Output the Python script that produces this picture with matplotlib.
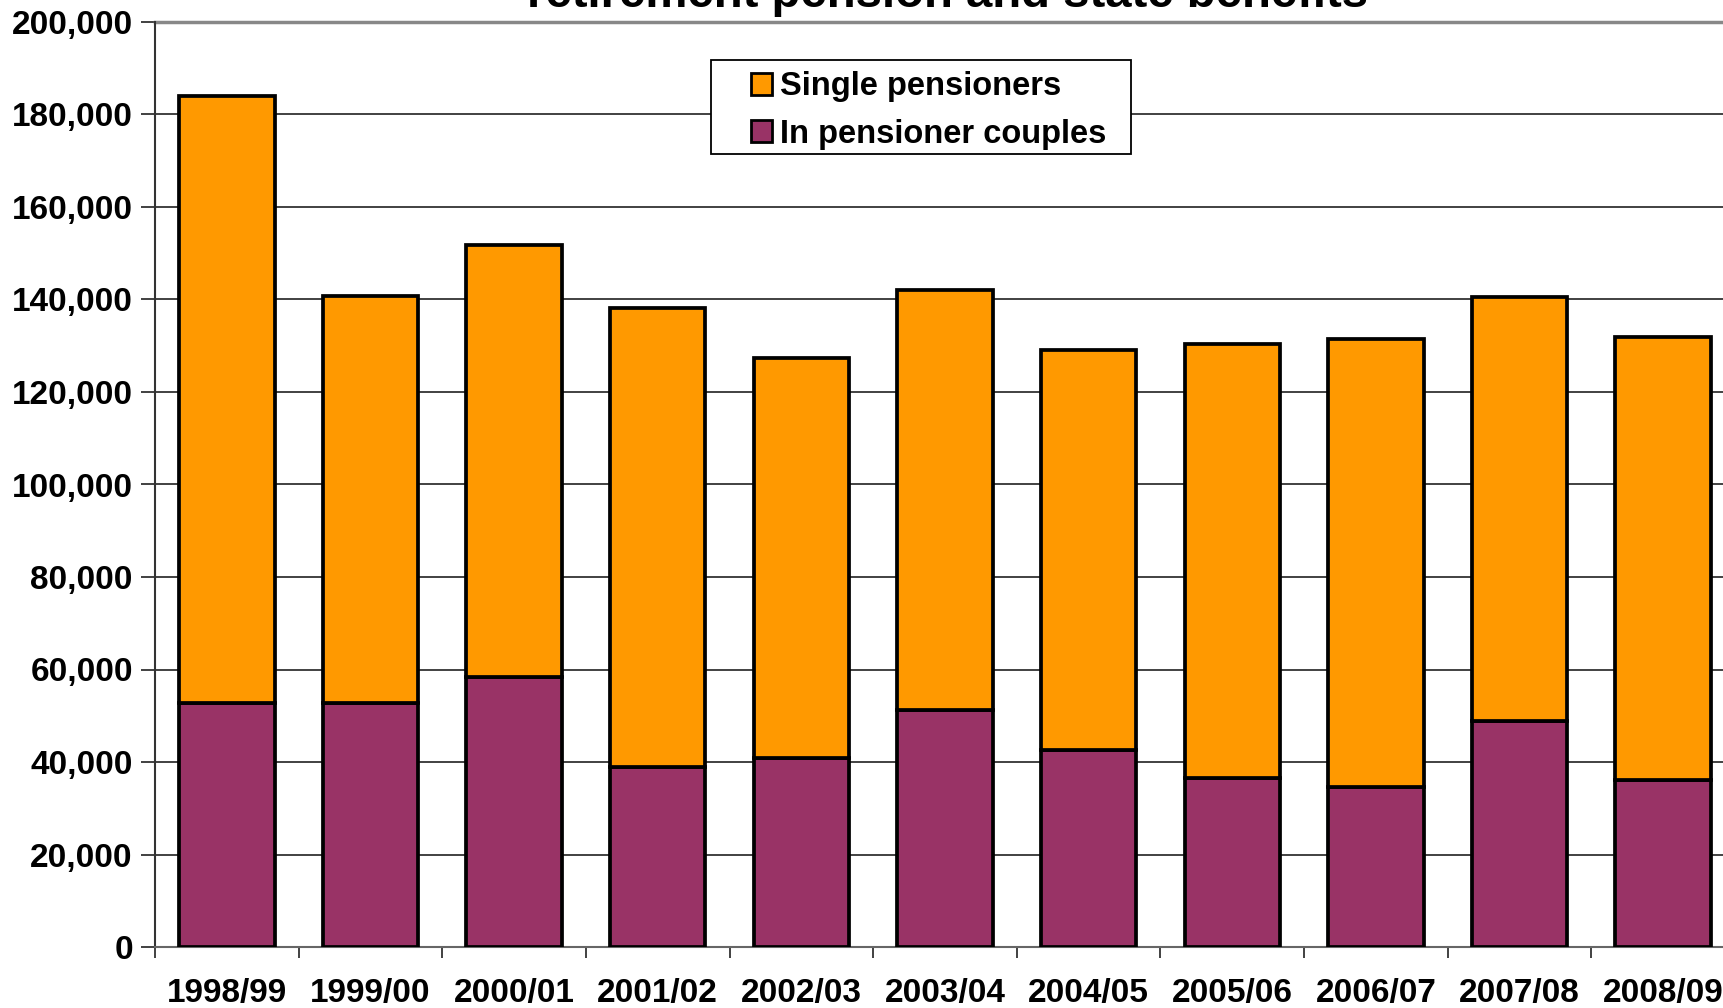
import matplotlib.pyplot as plt
import numpy as np
from matplotlib.patches import Patch, Rectangle
from matplotlib.ticker import FuncFormatter

years = ["1998/99", "1999/00", "2000/01", "2001/02", "2002/03", "2003/04",
         "2004/05", "2005/06", "2006/07", "2007/08", "2008/09"]
couples = [52700, 52700, 58300, 38900, 40900, 51300, 42600, 36500, 34600, 48900, 36200]
singles = [131300, 88000, 93500, 99300, 86500, 90800, 86400, 93800, 96900, 91600, 95800]

orange = "#FF9900"
purple = "#993366"

plt.rcParams["font.family"] = ["Liberation Sans", "DejaVu Sans"]
plt.rcParams["font.weight"] = "bold"

W, H = 1723, 1008
fig = plt.figure(figsize=(W / 100, H / 100), dpi=100)
# axes runs a little past the right edge, as in the reference crop
ax = fig.add_axes([155 / W, 61 / H, 1580 / W, 925 / H])

x = np.arange(len(years))
ax.bar(x, couples, width=0.665, color=purple, edgecolor="black", linewidth=2.7, zorder=3)
ax.bar(x, singles, width=0.665, bottom=couples, color=orange, edgecolor="black",
       linewidth=2.7, zorder=3)

ax.set_xlim(-0.5, len(years) - 0.5)
ax.set_ylim(0, 200000)
ax.set_yticks(np.arange(0, 200001, 20000))
ax.yaxis.set_major_formatter(FuncFormatter(lambda v, p: f"{int(v):,}"))
ax.yaxis.grid(True, color="#333333", linewidth=1.3, zorder=0)
ax.set_axisbelow(True)

ax.set_xticks(x)
ax.set_xticklabels(years)
ax.set_xticks(np.arange(-0.5, len(years), 1), minor=True)
ax.tick_params(axis="x", which="major", length=0, pad=22.5, labelsize=24)
ax.tick_params(axis="x", which="minor", length=8, width=1.3, color="#333333")
ax.tick_params(axis="y", length=10, width=1.3, color="#333333", pad=6, labelsize=24)
for lab in ax.get_xticklabels() + ax.get_yticklabels():
    lab.set_fontweight("bold")

for side in ["top", "right"]:
    ax.spines[side].set_visible(False)
ax.spines["left"].set_color("#333333")
ax.spines["left"].set_linewidth(1.5)
ax.spines["bottom"].set_color("#666666")
ax.spines["bottom"].set_linewidth(1.5)
ax.axhline(200000, color="#888888", linewidth=2.5, zorder=1, clip_on=False)

# the title's upper part lies above the picture, as in the reference
fig.text(948 / W, 1 - 7 / H, "retirement pension and state benefits",
         ha="center", va="baseline", fontsize=34, fontweight="bold")

# legend box drawn by hand so the padding matches the reference
fig.patches.append(Rectangle((711 / W, 1 - 154 / H), 420 / W, 94 / H,
                             transform=fig.transFigure, facecolor="white",
                             edgecolor="black", linewidth=1.3, zorder=5))
handles = [Patch(facecolor=orange, edgecolor="black", linewidth=2),
           Patch(facecolor=purple, edgecolor="black", linewidth=2)]
leg = fig.legend(handles, ["Single pensioners", "In pensioner couples"],
                 loc="upper left", bbox_to_anchor=(748 / W, 1 - 68 / H),
                 prop={"weight": "bold", "size": 23.5},
                 handlelength=0.65, handleheight=0.65, handletextpad=0.22,
                 borderpad=0.1, labelspacing=0.5, borderaxespad=0,
                 frameon=False)
leg.set_zorder(6)

fig.savefig("out.png", dpi=100)
